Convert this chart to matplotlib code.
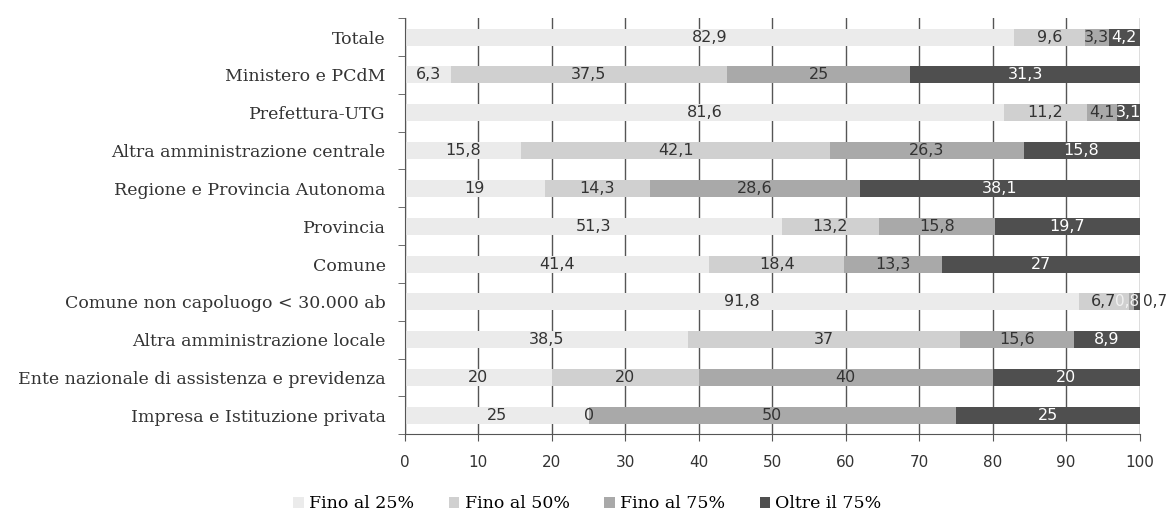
import matplotlib.pyplot as plt
import numpy as np

categories = ['Totale', 'Ministero e PCdM', 'Prefettura-UTG',
              'Altra amministrazione centrale', 'Regione e Provincia Autonoma',
              'Provincia', 'Comune', 'Comune non capoluogo < 30.000 ab',
              'Altra amministrazione locale',
              'Ente nazionale di assistenza e previdenza',
              'Impresa e Istituzione privata']

fino_25 = [82.9, 6.3, 81.6, 15.8, 19, 51.3, 41.4, 91.8, 38.5, 20, 25]
fino_50 = [9.6, 37.5, 11.2, 42.1, 14.3, 13.2, 18.4, 6.7, 37, 20, 0]
fino_75 = [3.3, 25, 4.1, 26.3, 28.6, 15.8, 13.3, 0.8, 15.6, 40, 50]
oltre_75 = [4.2, 31.3, 3.1, 15.8, 38.1, 19.7, 27, 0.7, 8.9, 20, 25]

series_names = ['Fino al 25%', 'Fino al 50%', 'Fino al 75%', 'Oltre il 75%']
colors = ['#ebebeb', '#d0d0d0', '#a9a9a9', '#4f4f4f']
text_colors = ['#333333', '#333333', '#333333', 'white']

fig = plt.figure(figsize=[11.68, 5.2], dpi=100)
ax = fig.add_axes([0.3467, 0.165, 0.629, 0.80])

y = np.arange(len(categories))
left = np.zeros(len(categories))
all_series = [fino_25, fino_50, fino_75, oltre_75]
for k, (name, vals, col, tcol) in enumerate(zip(series_names, all_series, colors, text_colors)):
    vals = np.array(vals, dtype=float)
    ax.barh(y, vals, left=left, height=0.45, color=col, label=name, zorder=2)
    for yi, l, v in zip(y, left, vals):
        txt = ('%g' % v).replace('.', ',')
        if k == 3 and v < 2:
            # tiny last segment: label sits just past the bar end
            ax.text(l + v + 0.4, yi, txt, ha='left', va='center', fontsize=11,
                    color='#333333', family='DejaVu Sans', zorder=3, clip_on=False)
            continue
        if k == 2 and v < 2:
            # tiny third segment: pale label, pulled left to leave room
            ax.text(l + v / 2 - 0.6, yi, txt, ha='center', va='center', fontsize=11,
                    color='#f2f2f2', family='DejaVu Sans', zorder=3)
            continue
        ax.text(l + v / 2, yi, txt, ha='center', va='center', fontsize=11.5,
                color=tcol, family='DejaVu Sans', zorder=3)
    left += vals

ax.set_xlim(0, 100)
ax.set_ylim(len(categories) - 0.5, -0.5)
ax.set_xticks(np.arange(0, 101, 10))
ax.set_yticks(y)
ax.set_yticklabels(categories, family='DejaVu Serif', fontsize=12.5, color='#333333')
ax.set_yticks(np.arange(-0.5, len(categories), 1), minor=True)
ax.tick_params(axis='y', which='major', length=0, pad=14)
ax.tick_params(axis='y', which='minor', length=5, color='#555555')
ax.tick_params(axis='x', length=5, color='#555555', labelsize=11, labelcolor='#333333', pad=10)

ax.grid(axis='x', color='#555555', linewidth=1, zorder=0)
ax.set_axisbelow(True)
for s in ['top', 'right']:
    ax.spines[s].set_visible(False)
for s in ['left', 'bottom']:
    ax.spines[s].set_color('#555555')

fig.legend(loc='lower center', bbox_to_anchor=(0.503, -0.015), ncol=4, frameon=False,
           handlelength=0.6, handleheight=0.6, handletextpad=0.3, columnspacing=2.0,
           prop={'family': 'DejaVu Serif', 'size': 12.5})

plt.savefig('out.png', dpi=100)
